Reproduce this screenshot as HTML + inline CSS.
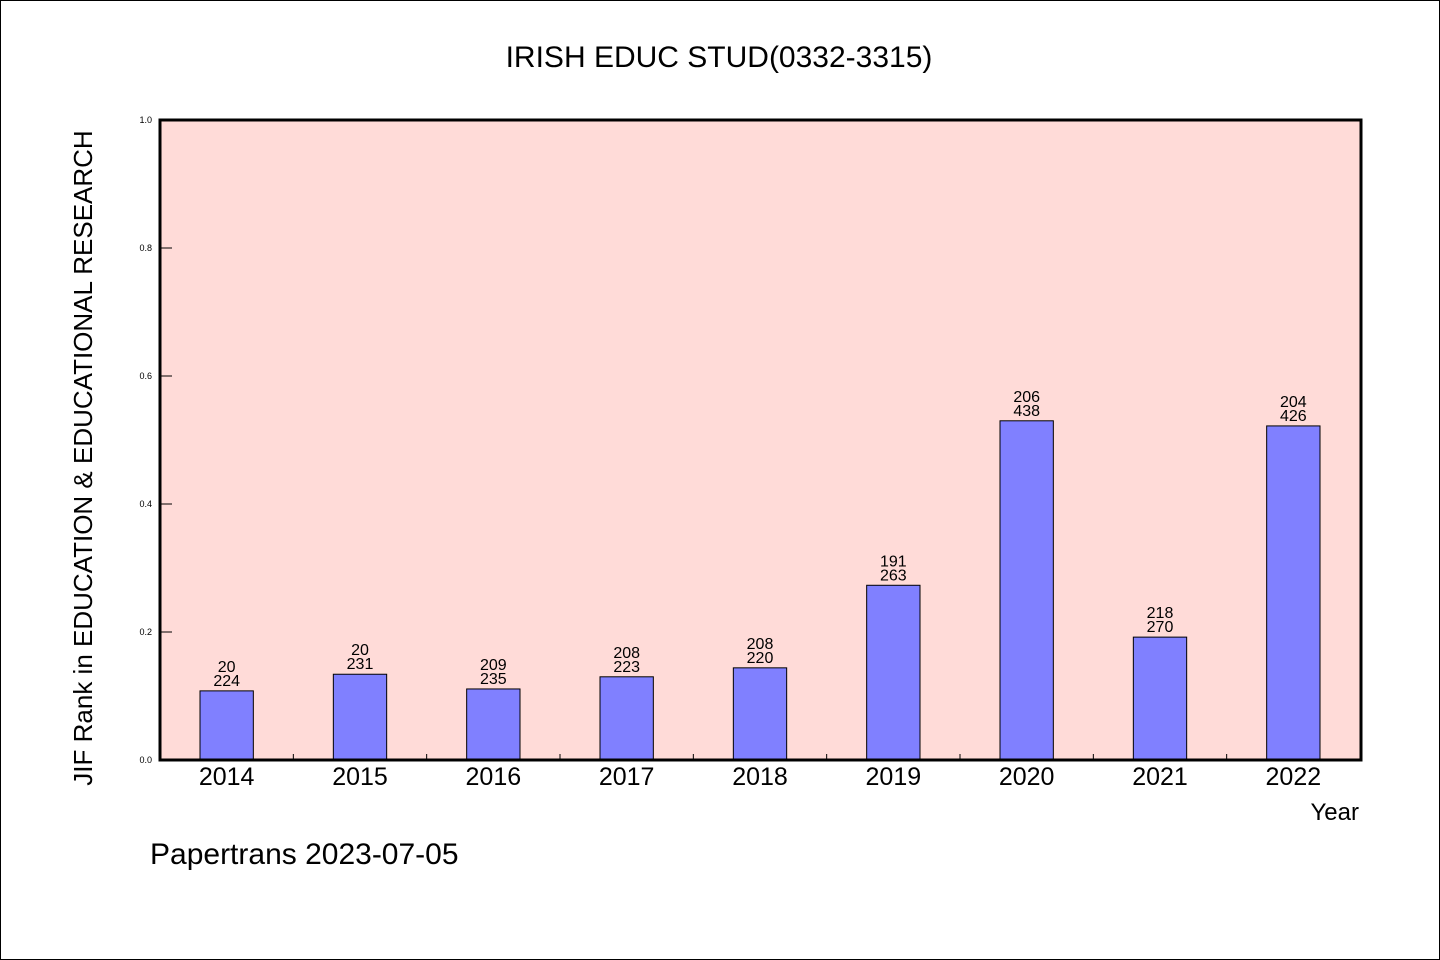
<!DOCTYPE html>
<html><head><meta charset="utf-8"><style>
html,body{margin:0;padding:0;background:#fff}
svg{display:block;font-family:"WenQuanYi Zen Hei","Liberation Sans",sans-serif}
</style></head><body>
<svg id="chart" width="1440" height="960" viewBox="0 0 1440 960" xmlns="http://www.w3.org/2000/svg">
<rect x="0.5" y="0.5" width="1439" height="959" fill="#fff" stroke="#000"/>
<text x="719" y="67" font-size="30" text-anchor="middle">IRISH EDUC STUD(0332-3315)</text>
<rect x="160" y="120" width="1201" height="640" fill="#ffdbd8"/>
<g id="ticks"></g>
<g id="bars"></g>
<rect x="160" y="120" width="1201" height="640" fill="none" stroke="#000" stroke-width="3"/>
<text transform="translate(92,458) rotate(-90)" font-size="26" text-anchor="middle">JIF Rank in EDUCATION &amp; EDUCATIONAL RESEARCH</text>
<text x="1359" y="820" font-size="24" text-anchor="end">Year</text>
<text x="150" y="864" font-size="30">Papertrans 2023-07-05</text>
</svg>
<script>
const categories=["2014","2015","2016","2017","2018","2019","2020","2021","2022"];
const values=[0.108,0.134,0.111,0.130,0.144,0.273,0.530,0.192,0.522];
const rankLabels=["20","20","209","208","208","191","206","218","204"];
const totalLabels=["224","231","235","223","220","263","438","270","426"];
const yTicks=[0,0.2,0.4,0.6,0.8,1.0];
const NS="http://www.w3.org/2000/svg";
const x0=160,x1=1360,y0=760,y1=120;
const bw=(x1-x0)/categories.length;
const xc=i=>x0+bw*(i+0.5);
const ys=v=>y0-(v)*(y0-y1);
function mk(t,a,p){const e=document.createElementNS(NS,t);for(const k in a)e.setAttribute(k,a[k]);p.appendChild(e);return e;}
const tg=document.getElementById('ticks'),bg=document.getElementById('bars');
yTicks.forEach(v=>{
 const l=mk('line',{x1:x0,x2:x0+12,y1:ys(v),y2:ys(v),stroke:'#000','stroke-width':1},tg);
 
 
 const t=mk('text',{x:x0-8,y:ys(v)+3,'font-size':9,'text-anchor':'end'},tg);
 t.textContent=v.toFixed(1);
 
 
});
for(let i=1;i<categories.length;i++){
 const l=mk('line',{x1:x0+bw*i,x2:x0+bw*i,y1:y0,y2:y0-6,stroke:'#000','stroke-width':1},tg);
 
 
}
categories.forEach((c,i)=>{
 const w=bw*0.4,top=ys(values[i]);
 const r=mk('rect',{x:xc(i)-w/2,y:top,width:w,height:y0-top,fill:'#8080ff',stroke:'#000','stroke-width':1},bg);
 
 
 const a=mk('text',{x:xc(i),y:top-19,'font-size':16,'text-anchor':'middle'},bg);
 a.textContent=rankLabels[i];
 
 
 const b=mk('text',{x:xc(i),y:top-5,'font-size':16,'text-anchor':'middle'},bg);
 b.textContent=totalLabels[i];
 
 
 const t=mk('text',{x:xc(i),y:y0+25,'font-size':25,'text-anchor':'middle'},bg);
 t.textContent=c;
 
 
});
</script>
</body></html>
